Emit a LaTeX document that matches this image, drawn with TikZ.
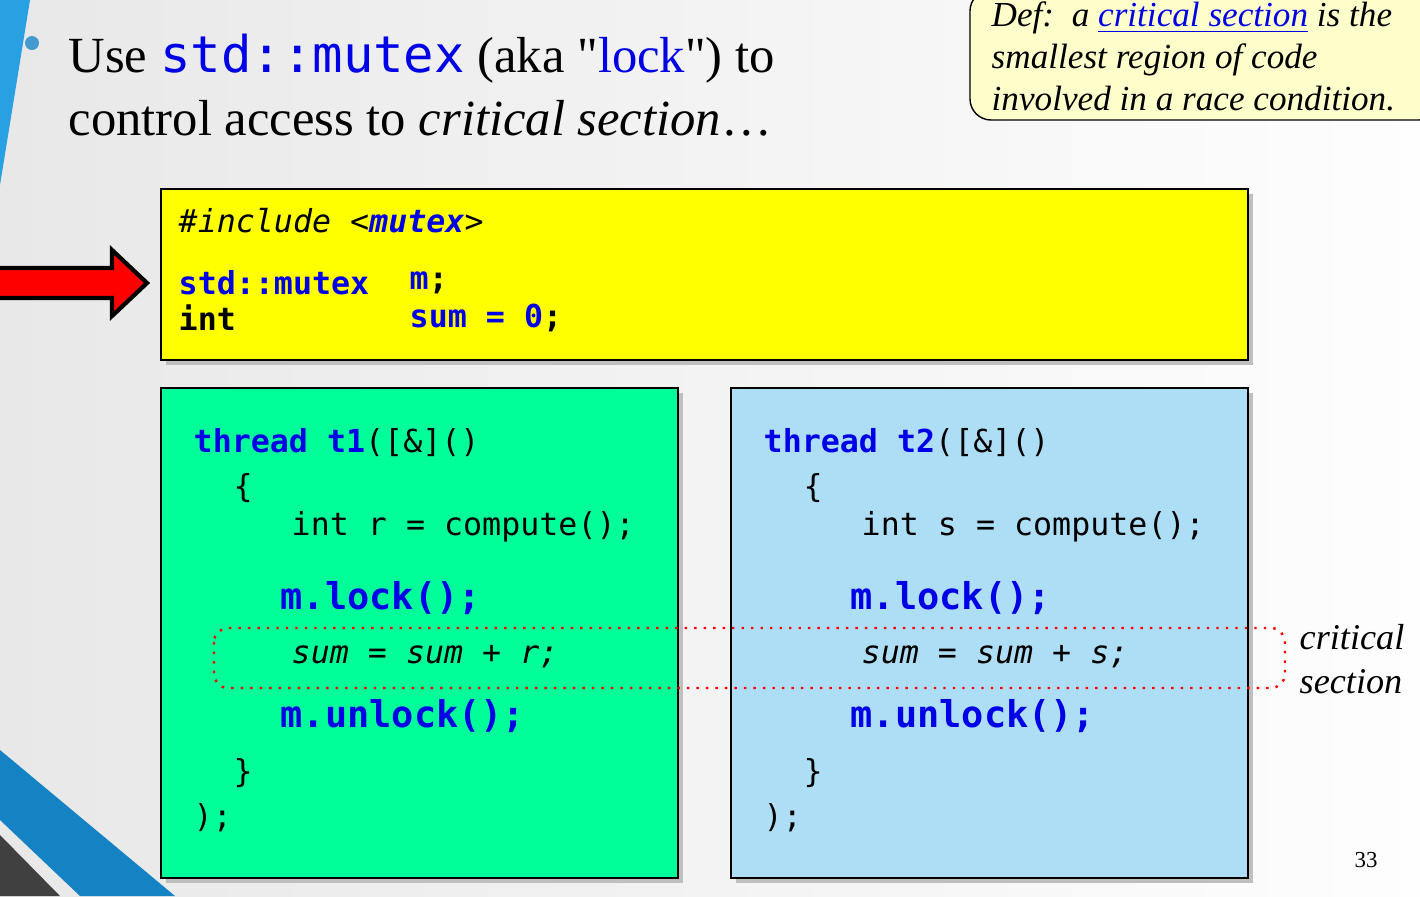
\documentclass[tikz,border=0pt]{standalone}
\usepackage{fontspec}
\setmainfont{Liberation Serif}
\setmonofont{DejaVu Sans Mono}
\newfontfamily\plainserif[Renderer=OpenType]{Liberation Serif}
\newcommand{\sq}{{\plainserif\char"0022}}
\usetikzlibrary{arrows.meta,positioning}
\definecolor{slidebg}{RGB}{232,232,232}
\definecolor{stripe}{RGB}{40,160,225}
\definecolor{bandblue}{RGB}{20,130,195}
\definecolor{codeyel}{RGB}{255,255,0}
\definecolor{codegrn}{RGB}{0,255,153}
\definecolor{codeblu}{RGB}{174,222,246}
\definecolor{defyel}{RGB}{255,255,204}
\definecolor{kwblue}{RGB}{0,0,230}
\begin{document}
\begin{tikzpicture}[x=0.01cm,y=-0.01cm,font=\rmfamily,
    code/.style={anchor=west,inner sep=0pt,font=\fontsize{9}{10}\ttfamily},
    bigcode/.style={anchor=west,inner sep=0pt,font=\fontsize{10.5}{12}\ttfamily\bfseries,text=kwblue},
    panel/.style={draw=black,line width=0.8pt},
    shade/.style={fill=black!25}]

    \useasboundingbox (0,0) rectangle (1420,896);
    \begin{scope}
    \clip (0,0) rectangle (1420,896);

    % background
    \shade [left color=slidebg,right color=white!95!slidebg] (0,0) rectangle (1420,896);
    \fill [stripe] (0,0) -- (30,0) -- (0,185) -- cycle;
    \fill [bandblue] (0,750) -- (0,820) -- (80,896) -- (175,896) -- cycle;
    \fill [black!75] (0,835) -- (0,896) -- (60,896) -- cycle;

    % title
    \fill [bandblue!80] (32,43) circle (7);
    \node [anchor=base west,inner sep=0pt,font=\fontsize{14.4}{17}\selectfont] (title1) at (68,72)
        {Use \textcolor{kwblue}{\ttfamily std::mutex} (aka \sq\textcolor{kwblue}{lock}\sq) to};
    \node [anchor=base west,inner sep=0pt,font=\fontsize{14.4}{17}\selectfont] (title2) at (68,135)
        {control access to \textit{critical section}\ldots};

    % definition box
    \draw [fill=defyel,rounded corners=6pt] (970,-10) rectangle (1440,120);
    \node [anchor=north west,align=left,inner sep=0pt,font=\fontsize{10}{12}\itshape] (def) at (991,1)
        {Def:\ \ a \textcolor{kwblue}{\underline{critical section}} is the\\smallest region of code\\involved in a race condition.};

    % red arrow
    \draw [fill=red,line width=1.2pt,line join=miter] (-5,268) -- (112,268) -- (112,250) -- (147,283)
        -- (112,316) -- (112,298) -- (-5,298) -- cycle;

    % yellow box
    \fill [shade] (166,194) rectangle (1253,365);
    \draw [panel,fill=codeyel] (161,189) rectangle (1248,360);
    \node [code,font=\fontsize{9}{10}\ttfamily\itshape] (inc) at (178,221)
        {\#include <\textcolor{kwblue}{\textbf{mutex}}>};
    \node [code,font=\fontsize{9}{10}\ttfamily\bfseries,text=kwblue] (decl1) at (178,283) {std::mutex};
    \node [code,font=\fontsize{9}{10}\ttfamily\bfseries,text=kwblue] (decl2) at (409,283) {m\textcolor{black}{;}};
    \node [code,font=\fontsize{9}{10}\ttfamily\bfseries] (decl3) at (178,318) {int};
    \node [code,font=\fontsize{9}{10}\ttfamily\bfseries,text=kwblue] (decl4) at (409,318) {sum = 0\textcolor{black}{;}};

    % thread panels
    \fill [shade] (166,393) rectangle (683,883);
    \draw [panel,fill=codegrn] (161,388) rectangle (678,878);
    \fill [shade] (736,393) rectangle (1253,883);
    \draw [panel,fill=codeblu] (731,388) rectangle (1248,878);

    \foreach \x/\t/\v in {193/t1/r, 763/t2/s} {
        \node [code] (\t head) at (\x,443) {\textcolor{kwblue}{\textbf{thread \t}}([\&]()};
        \node [code] (\t open) at (\x+40,488) {\{};
        \node [code] (\t comp) at (\x+98,527) {int \v{} = compute();};
        \node [bigcode] (\t lock) at (\x+87,598) {m.lock();};
        \node [code,font=\fontsize{9}{10}\ttfamily\itshape] (\t sum) at (\x+98,657) {sum = sum + \v;};
        \node [bigcode] (\t unlock) at (\x+87,716) {m.unlock();};
        \node [code] (\t close) at (\x+40,773) {\}};
        \node [code] (\t end) at (\x,818) {);};
    }

    % critical section
    \draw [red,dotted,line width=0.7pt,rounded corners=4pt] (214,628) rectangle (1285,688);
    \node [anchor=west,align=left,inner sep=0pt,font=\fontsize{10.3}{12.3}\itshape] (crit) at (1299,659)
        {critical\\section};

    % page number
    \node [font=\fontsize{6.5}{8}\selectfont,inner sep=0pt] (page) at (1366,860) {33};
    \end{scope}
\end{tikzpicture}
\end{document}
